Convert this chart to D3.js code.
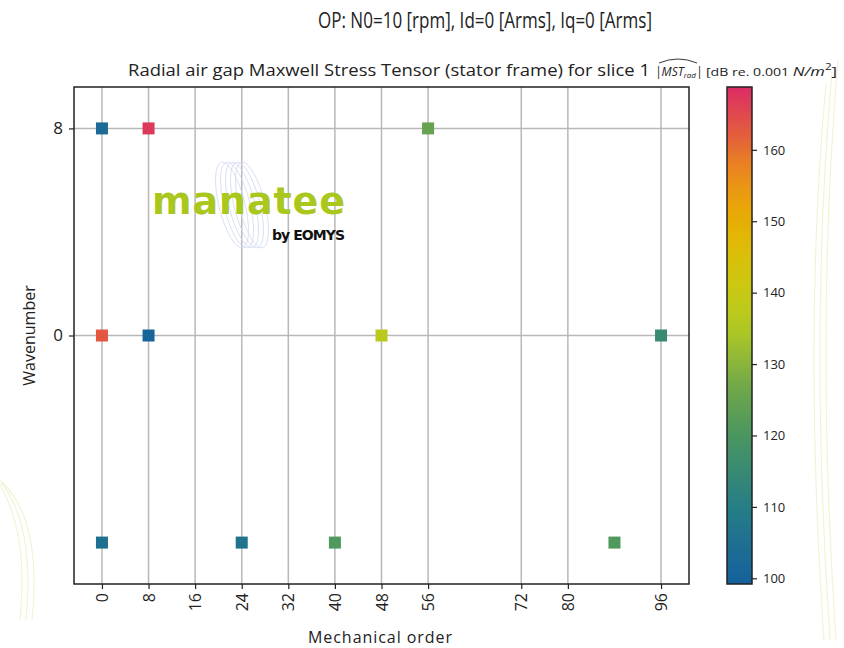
<!DOCTYPE html>
<html>
<head>
<meta charset="utf-8">
<script src="https://cdn.jsdelivr.net/npm/d3@7"></script>
<style>
  body { margin: 0; background: #fff; }
  svg text { font-family: "Open Sans", "DejaVu Sans", sans-serif; fill: #222; }
</style>
</head>
<body>
<svg id="chart" width="844" height="648"></svg>
<script>
// chart data
const orders = [0, 8, 56, 0, 8, 48, 96, 0, 24, 40, 88];
const wavenumbers = [8, 8, 8, 0, 0, 0, 0, -8, -8, -8, -8];
const magnitudes = [103, 167, 125, 163, 101, 137, 115, 105, 106, 121, 121];
const xTicks = [0, 8, 16, 24, 32, 40, 48, 56, 72, 80, 96];
const yTicks = [0, 8];
const cbTicks = [100, 110, 120, 130, 140, 150, 160];

const svg = d3.select('#chart');
const width = 844, height = 648;
const margin = { top: 87, right: 155, bottom: 64, left: 74 };

// faint background swirls (screenshot backdrop)
const bg = svg.append('g').attr('fill', 'none').attr('stroke', '#f1f4d4').attr('stroke-width', 1.2);
[0, 6, 12].forEach(o => {
  bg.append('path').attr('d', `M${-10 + o},${470 + o} Q${30 + o},${520} ${20 + o},${620}`);
  bg.append('path').attr('d', `M${838 - o},${60 + o * 2} Q${815 - o},${330} ${836 - o},${640}`);
});

// scales
const x = d3.scaleLinear().domain([-4.8, 100.8]).range([margin.left, width - margin.right]);
const y = d3.scaleLinear().domain([-9.6, 9.6]).range([height - margin.bottom, margin.top]);
const color = d3.scaleLinear()
  .domain([99.2, 110, 120, 128, 135, 142, 150, 157, 162, 168.8])
  .range(['#15609e', '#267e86', '#4a9660', '#78ab45', '#b1cb22', '#cfc80e', '#e8b000', '#eb8a1c', '#e45e3c', '#db2c65'])
  .interpolate(d3.interpolateRgb);

// grid
svg.append('g')
  .selectAll('line')
  .data(xTicks)
  .join('line')
  .attr('x1', d => x(d)).attr('x2', d => x(d))
  .attr('y1', margin.top).attr('y2', height - margin.bottom)
  .attr('stroke', '#b8b8b8').attr('stroke-width', 1.5);
svg.append('g')
  .selectAll('line')
  .data(yTicks)
  .join('line')
  .attr('y1', d => y(d)).attr('y2', d => y(d))
  .attr('x1', margin.left).attr('x2', width - margin.right)
  .attr('stroke', '#b8b8b8').attr('stroke-width', 1.5);

// manatee watermark
const logo = svg.append('g');
const spiral = logo.append('g').attr('fill', 'none').attr('stroke', '#d3dbf1').attr('stroke-width', 0.8);
[0, 5, 10, 15, 20].forEach(o => {
  spiral.append('ellipse')
    .attr('cx', 232 + o).attr('cy', 205).attr('rx', 13).attr('ry', 44)
    .attr('transform', `rotate(-14, ${232 + o}, 205)`);
});
logo.append('text').attr('x', 152).attr('y', 214)
  .style('font-family', '"DejaVu Sans", sans-serif').style('font-weight', 'bold')
  .style('font-size', '38px').style('fill', '#a9c71c').attr('textLength', 193)
  .text('manatee');
logo.append('text').attr('x', 272).attr('y', 240)
  .style('font-family', '"DejaVu Sans", sans-serif').style('font-weight', 'bold')
  .style('font-size', '14px').style('fill', '#111').attr('textLength', 73)
  .text('by EOMYS');

// points
svg.append('g')
  .selectAll('rect')
  .data(orders.map((o, i) => ({ o, k: wavenumbers[i], v: magnitudes[i] })))
  .join('rect')
  .attr('x', d => x(d.o) - 6)
  .attr('y', d => y(d.k) - 6)
  .attr('width', 12).attr('height', 12)
  .attr('fill', d => color(d.v));

// axes
const xAxis = d3.axisBottom(x).tickValues(xTicks).tickSize(5).tickPadding(4);
const gx = svg.append('g')
  .attr('transform', `translate(0, ${height - margin.bottom})`)
  .call(xAxis);
gx.select('.domain').remove();
gx.selectAll('line').attr('stroke', '#222').attr('stroke-width', 1.2);
gx.selectAll('text')
  .style('font-size', '16px')
  .attr('transform', 'rotate(-90)')
  .attr('x', -9).attr('y', 0).attr('dy', '0.35em')
  .attr('text-anchor', 'end');

const yAxis = d3.axisLeft(y).tickValues(yTicks).tickSize(5).tickPadding(6);
const gy = svg.append('g')
  .attr('transform', `translate(${margin.left}, 0)`)
  .call(yAxis);
gy.select('.domain').remove();
gy.selectAll('line').attr('stroke', '#222').attr('stroke-width', 1.2);
gy.selectAll('text').style('font-size', '17px');

// frame
svg.append('rect')
  .attr('x', margin.left).attr('y', margin.top)
  .attr('width', width - margin.right - margin.left)
  .attr('height', height - margin.bottom - margin.top)
  .attr('fill', 'none').attr('stroke', '#222').attr('stroke-width', 1.5);

// axis labels
svg.append('text')
  .attr('x', 380).attr('y', 643)
  .attr('text-anchor', 'middle').style('font-size', '16px')
  .attr('textLength', 144)
  .text('Mechanical order');
svg.append('text')
  .attr('transform', `translate(35, ${(margin.top + height - margin.bottom) / 2}) rotate(-90)`)
  .attr('text-anchor', 'middle').style('font-size', '16px')
  .text('Wavenumber');

// titles
svg.append('text')
  .attr('x', 318).attr('y', 28)
  .style('font-size', '22px')
  .attr('textLength', 334).attr('lengthAdjust', 'spacingAndGlyphs')
  .text('OP:  N0=10 [rpm], Id=0 [Arms], Iq=0 [Arms]');

svg.append('text').attr('x', 128).attr('y', 76).style('font-size', '16px')
  .attr('textLength', 522).attr('lengthAdjust', 'spacingAndGlyphs')
  .text('Radial air gap Maxwell Stress Tensor (stator frame) for slice 1');
const mst = svg.append('text').attr('x', 655).attr('y', 76).style('font-size', '12px')
  .style('font-style', 'italic');
mst.append('tspan').text('|MST');
mst.append('tspan').style('font-size', '8px').attr('dy', 2).text('rad');
mst.append('tspan').attr('dy', -2).text('|');
svg.append('path')
  .attr('d', 'M659,63 Q678,55 697,63')
  .attr('fill', 'none').attr('stroke', '#222').attr('stroke-width', 0.9);
const unit = svg.append('text').attr('x', 706).attr('y', 76).style('font-size', '11px')
  .attr('textLength', 131).attr('lengthAdjust', 'spacingAndGlyphs');
unit.append('tspan').text('[dB re. 0.001 ');
unit.append('tspan').style('font-style', 'italic').style('font-size', '13px').text('N/m');
unit.append('tspan').style('font-size', '9px').attr('dy', -6).text('2');
unit.append('tspan').attr('dy', 6).style('font-size', '13px').text(']');

// colorbar
const cb = { x: 727, w: 25 };
const cy = d3.scaleLinear().domain([99.2, 168.8]).range([height - margin.bottom, margin.top]);
const grad = svg.append('defs').append('linearGradient').attr('id', 'cbgrad')
  .attr('x1', 0).attr('x2', 0).attr('y1', 1).attr('y2', 0);
d3.range(0, 1.0001, 0.05).forEach(t => {
  const v = 99.2 + t * (168.8 - 99.2);
  grad.append('stop').attr('offset', t).attr('stop-color', color(v));
});
svg.append('rect')
  .attr('x', cb.x).attr('y', margin.top)
  .attr('width', cb.w).attr('height', height - margin.bottom - margin.top)
  .attr('fill', 'url(#cbgrad)').attr('stroke', '#222').attr('stroke-width', 1.5);
const gc = svg.append('g')
  .attr('transform', `translate(${cb.x + cb.w}, 0)`)
  .call(d3.axisRight(cy).tickValues(cbTicks).tickSize(5).tickPadding(6));
gc.select('.domain').remove();
gc.selectAll('line').attr('stroke', '#222').attr('stroke-width', 1.2);
gc.selectAll('text').style('font-size', '13px');
</script>
</body>
</html>
